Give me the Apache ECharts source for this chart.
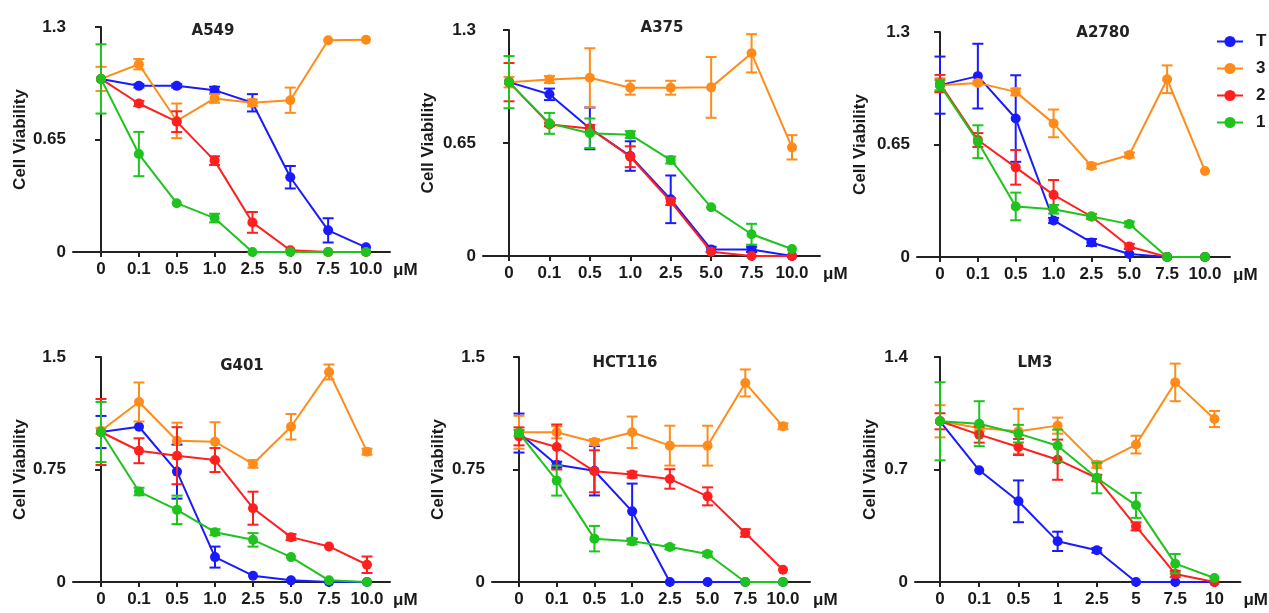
<!DOCTYPE html>
<html>
<head>
<meta charset="utf-8">
<script src="https://cdn.jsdelivr.net/npm/echarts@6/dist/echarts.min.js"></script>
<style>html,body{margin:0;padding:0;background:#fff;}#c{width:1269px;height:613px;}</style>
</head>
<body>
<div id="c"></div>
<script>
// ---------- DATA ----------
const seriesNames = ['T', '3', '2', '1'];
const doseLabels = ['0', '0.1', '0.5', '1.0', '2.5', '5.0', '7.5', '10.0'];
const doseLabelsLM3 = ['0', '0.1', '0.5', '1', '2.5', '5', '7.5', '10'];
const panelTitles = ['A549', 'A375', 'A2780', 'G401', 'HCT116', 'LM3'];
const yMax = [1.3, 1.3, 1.3, 1.5, 1.5, 1.4];
const yStep = [0.65, 0.65, 0.65, 0.75, 0.75, 0.7];
const unitLabel = 'μM';
const yLabel = 'Cell Viability';

// A549
const a549_T = [1.0, 0.96, 0.96, 0.935, 0.862, 0.432, 0.125, 0.027];
const a549_T_err = [0, 0.01, 0.01, 0.02, 0.05, 0.065, 0.07, 0];
const a549_3 = [1.0, 1.085, 0.758, 0.887, 0.862, 0.877, 1.223, 1.227];
const a549_3_err = [0.07, 0.03, 0.1, 0.025, 0.02, 0.073, 0, 0];
const a549_2 = [1.0, 0.858, 0.753, 0.528, 0.171, 0.01, 0, 0];
const a549_2_err = [0, 0.015, 0.06, 0.025, 0.06, 0, 0, 0];
const a549_1 = [1.0, 0.566, 0.282, 0.196, 0, 0, 0, 0];
const a549_1_err = [0.2, 0.128, 0, 0.025, 0, 0, 0, 0];
// A375
const a375_T = [1.0, 0.93, 0.734, 0.575, 0.326, 0.038, 0.038, 0];
const a375_T_err = [0, 0.033, 0.12, 0.085, 0.137, 0.015, 0.015, 0];
const a375_3 = [1.0, 1.015, 1.025, 0.968, 0.968, 0.97, 1.166, 0.625];
const a375_3_err = [0.03, 0.02, 0.17, 0.04, 0.04, 0.175, 0.11, 0.07];
const a375_2 = [1.0, 0.757, 0.734, 0.571, 0.313, 0.025, 0, 0];
const a375_2_err = [0.11, 0.01, 0.02, 0.06, 0.02, 0, 0, 0];
const a375_1 = [1.0, 0.763, 0.706, 0.698, 0.552, 0.28, 0.125, 0.04];
const a375_1_err = [0.15, 0.06, 0.085, 0.02, 0.02, 0, 0.06, 0];
// A2780
const a2780_T = [0.993, 1.045, 0.80, 0.211, 0.084, 0.017, 0, 0];
const a2780_T_err = [0.165, 0.187, 0.25, 0.015, 0.02, 0, 0, 0];
const a2780_3 = [0.993, 1.006, 0.954, 0.772, 0.526, 0.589, 1.027, 0.497];
const a2780_3_err = [0.04, 0.01, 0.02, 0.08, 0.015, 0.015, 0.08, 0];
const a2780_2 = [1.002, 0.676, 0.518, 0.359, 0.234, 0.061, 0, 0];
const a2780_2_err = [0.05, 0.04, 0.1, 0.086, 0.015, 0.015, 0, 0];
const a2780_1 = [0.993, 0.666, 0.292, 0.276, 0.234, 0.19, 0, 0];
const a2780_1_err = [0.03, 0.095, 0.08, 0.025, 0.015, 0.015, 0, 0];
// G401
const g401_T = [1.0, 1.035, 0.736, 0.166, 0.042, 0.011, 0, 0];
const g401_T_err = [0.107, 0, 0.18, 0.07, 0, 0, 0, 0];
const g401_3 = [1.008, 1.2, 0.942, 0.935, 0.787, 1.035, 1.40, 0.869];
const g401_3_err = [0.02, 0.13, 0.12, 0.13, 0.025, 0.085, 0.05, 0.02];
const g401_2 = [1.0, 0.875, 0.842, 0.813, 0.492, 0.299, 0.237, 0.115];
const g401_2_err = [0.22, 0.083, 0.19, 0.08, 0.11, 0.02, 0, 0.055];
const g401_1 = [1.0, 0.603, 0.481, 0.332, 0.281, 0.166, 0.011, 0];
const g401_1_err = [0.2, 0.025, 0.095, 0.02, 0.045, 0, 0, 0];
// HCT116
const hct116_T = [0.993, 0.782, 0.742, 0.471, 0, 0, 0, 0];
const hct116_T_err = [0.13, 0.02, 0.165, 0.185, 0, 0, 0, 0];
const hct116_3 = [0.998, 0.998, 0.933, 0.998, 0.909, 0.909, 1.327, 1.038];
const hct116_3_err = [0.11, 0.04, 0.02, 0.105, 0.133, 0.133, 0.09, 0.02];
const hct116_2 = [0.971, 0.9, 0.738, 0.716, 0.687, 0.571, 0.327, 0.082];
const hct116_2_err = [0.06, 0.15, 0.14, 0.02, 0.065, 0.06, 0.025, 0];
const hct116_1 = [0.993, 0.676, 0.289, 0.271, 0.233, 0.187, 0, 0];
const hct116_1_err = [0.02, 0.1, 0.085, 0.02, 0.015, 0.015, 0, 0];
// LM3
const lm3_T = [1.0, 0.695, 0.502, 0.253, 0.197, 0, 0, 0];
const lm3_T_err = [0, 0, 0.13, 0.06, 0.015, 0, 0, 0];
const lm3_3 = [1.0, 0.958, 0.938, 0.973, 0.73, 0.855, 1.242, 1.014];
const lm3_3_err = [0.1, 0.02, 0.14, 0.05, 0.02, 0.055, 0.117, 0.05];
const lm3_2 = [1.0, 0.917, 0.84, 0.761, 0.647, 0.346, 0.05, 0];
const lm3_2_err = [0.05, 0.05, 0.05, 0.125, 0.02, 0.025, 0.02, 0];
const lm3_1 = [1.0, 0.985, 0.923, 0.848, 0.647, 0.477, 0.114, 0.025];
const lm3_1_err = [0.243, 0.14, 0.055, 0.1, 0.095, 0.078, 0.06, 0];

// ---------- ASSEMBLY ----------
const panels = [
  {labels: doseLabels, vals: [a549_T, a549_3, a549_2, a549_1], errs: [a549_T_err, a549_3_err, a549_2_err, a549_1_err]},
  {labels: doseLabels, vals: [a375_T, a375_3, a375_2, a375_1], errs: [a375_T_err, a375_3_err, a375_2_err, a375_1_err]},
  {labels: doseLabels, vals: [a2780_T, a2780_3, a2780_2, a2780_1], errs: [a2780_T_err, a2780_3_err, a2780_2_err, a2780_1_err]},
  {labels: doseLabels, vals: [g401_T, g401_3, g401_2, g401_1], errs: [g401_T_err, g401_3_err, g401_2_err, g401_1_err]},
  {labels: doseLabels, vals: [hct116_T, hct116_3, hct116_2, hct116_1], errs: [hct116_T_err, hct116_3_err, hct116_2_err, hct116_1_err]},
  {labels: doseLabelsLM3, vals: [lm3_T, lm3_3, lm3_2, lm3_1], errs: [lm3_T_err, lm3_3_err, lm3_2_err, lm3_1_err]}
];

// layout (pixels): axis box and first/last category centre, title centre, y-name gap
const layout = [
  {L: 73,  R: 390,  T: 27,  B: 252, c0: 101, c7: 366,  tx: 208,  ty: 28,  ng: 44},
  {L: 483, R: 820,  T: 30,  B: 256, c0: 509, c7: 792,  tx: 657,  ty: 25,  ng: 46},
  {L: 917, R: 1230, T: 32,  B: 257, c0: 940, c7: 1205, tx: 1098, ty: 30,  ng: 48},
  {L: 73,  R: 390,  T: 357, B: 582, c0: 101, c7: 367,  tx: 237,  ty: 363, ng: 44},
  {L: 492, R: 810,  T: 357, B: 582, c0: 519, c7: 783,  tx: 620,  ty: 360, ng: 45},
  {L: 915, R: 1253, T: 357, B: 582, c0: 941, c7: 1226, tx: 1030, ty: 360, ng: 36}
];
const colors = ['#1a1aff', '#ff8c1a', '#ff1f1f', '#1ec31e'];
const axisColor = '#222';
const FONT = 'Liberation Sans, Arial, sans-serif';

const grid = [], xAxis = [], yAxis = [], title = [], series = [];

panels.forEach((p, i) => {
  const g = layout[i];
  const sp = (g.c7 - g.c0) / 7;
  grid.push({left: g.L, top: g.T, width: g.R - g.L, height: g.B - g.T, containLabel: false});
  const idx = p.labels.map((_, k) => k);
  xAxis.push({
    gridIndex: i, type: 'value',
    min: -(g.c0 - g.L) / sp, max: 7 + (g.R - g.c7) / sp,
    splitLine: {show: false},
    axisLine: {show: true, onZero: false, lineStyle: {color: axisColor, width: 2}},
    axisTick: {show: true, customValues: idx, length: 5, lineStyle: {color: axisColor, width: 2}},
    axisLabel: {customValues: idx, margin: 9, formatter: v => p.labels[Math.round(v)],
      fontFamily: FONT, fontWeight: 'bold', fontSize: 17, color: '#1a1a1a'},
    name: unitLabel, nameLocation: 'end', nameGap: 3,
    nameTextStyle: {fontFamily: FONT, fontWeight: 'bold', fontSize: 17, color: '#1a1a1a',
      verticalAlign: 'top', align: 'left', padding: [10, 0, 0, 0]}
  });
  yAxis.push({
    gridIndex: i, type: 'value', min: 0, max: yMax[i], interval: yStep[i],
    splitLine: {show: false},
    axisLine: {show: true, lineStyle: {color: axisColor, width: 2}},
    axisTick: {show: true, length: 6, lineStyle: {color: axisColor, width: 2}},
    axisLabel: {margin: 7, fontFamily: FONT, fontWeight: 'bold', fontSize: 17, color: '#1a1a1a'},
    name: yLabel, nameLocation: 'middle', nameGap: g.ng, nameRotate: 90,
    nameTextStyle: {fontFamily: FONT, fontWeight: 'bold', fontSize: 17, color: '#1a1a1a'}
  });
  title.push({
    text: panelTitles[i], left: g.tx, top: g.ty - 9, textAlign: 'center',
    textStyle: {fontFamily: 'DejaVu Sans, sans-serif', fontWeight: 'bold', fontSize: 15, color: '#222'}
  });
  seriesNames.forEach((nm, s) => {
    const vals = p.vals[s], errs = p.errs[s];
    series.push({
      name: nm + ' sd', type: 'custom', xAxisIndex: i, yAxisIndex: i,
      data: vals.map((v, k) => [k, v - errs[k], v + errs[k]]),
      encode: {x: 0, y: [1, 2]},
      z: 2 + s,
      silent: true,
      renderItem: (params, api) => {
        const x = api.value(0), lo = api.value(1), hi = api.value(2);
        if (hi - lo < 1e-9) return null;
        const top = api.coord([x, hi]), bot = api.coord([x, lo]);
        const w = 5.5;
        const st = {stroke: colors[s], lineWidth: 2};
        return {type: 'group', children: [
          {type: 'line', shape: {x1: top[0], y1: top[1], x2: bot[0], y2: bot[1]}, style: st},
          {type: 'line', shape: {x1: top[0] - w, y1: top[1], x2: top[0] + w, y2: top[1]}, style: st},
          {type: 'line', shape: {x1: bot[0] - w, y1: bot[1], x2: bot[0] + w, y2: bot[1]}, style: st}
        ]};
      }
    });
    series.push({
      name: nm, type: 'line', xAxisIndex: i, yAxisIndex: i,
      data: vals.map((v, k) => [k, v]),
      symbol: 'circle', symbolSize: 10, z: 2 + s,
      lineStyle: {color: colors[s], width: 2},
      itemStyle: {color: colors[s]},
      animation: false
    });
  });
});

const chart = echarts.init(document.getElementById('c'), null, {renderer: 'canvas'});
chart.setOption({
  animation: false,
  backgroundColor: '#fff',
  title: title,
  legend: {
    data: seriesNames, orient: 'vertical', left: 1211, top: 28,
    itemWidth: 26, itemHeight: 14, itemGap: 10,
    textStyle: {fontFamily: FONT, fontWeight: 'bold', fontSize: 17, color: '#1a1a1a', padding: [0, 0, 0, 8]}
  },
  grid: grid, xAxis: xAxis, yAxis: yAxis, series: series
});
</script>
</body>
</html>
